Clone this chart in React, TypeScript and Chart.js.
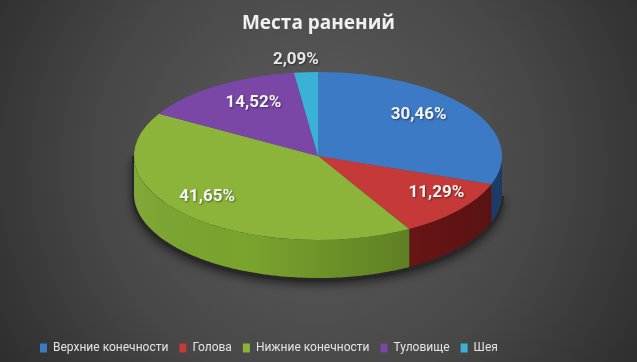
import React, { useEffect, useRef } from "react";
import { Chart, registerables } from "chart.js";
Chart.register(...registerables);

const categories = ["Верхние конечности", "Голова", "Нижние конечности", "Туловище", "Шея"];
const values = [30.46, 11.29, 41.65, 14.52, 2.09];
const topColors = ["#3c7ac6", "#c53a38", "#8cb43b", "#7a47a7", "#39b2d6"];
const sideColors = ["#2a5a9a", "#861b1b", "#7ba42e", "#55307a", "#24809c"];
const titleText = "Места ранений";

const FONT = "Roboto, 'Open Sans', sans-serif";
const TITLE_FONT = "'Open Sans', Roboto, sans-serif";
const GEOM = { cx: 318, cy: 156, rx: 184, ry: 84, depth: 38, labelCy: 147 };

const fmt = (v: number) => v.toFixed(2).replace(".", ",") + "%";

const pie3d = {
  id: "pie3d",
  beforeDraw(chart: any) {
    const { ctx, width, height } = chart;
    ctx.save();
    const g = ctx.createRadialGradient(318, 165, 10, 318, 165, 400);
    g.addColorStop(0, "#5d5d5d");
    g.addColorStop(0.55, "#474747");
    g.addColorStop(1, "#2a2a2a");
    ctx.fillStyle = g;
    ctx.fillRect(0, 0, width, height);
    ctx.restore();
  },
  beforeDatasetsDraw(chart: any) {
    const meta = chart.getDatasetMeta(0);
    const arcs = meta.data;
    if (!arcs.length) return;
    const ctx = chart.ctx;
    const { x, y, outerRadius: R } = arcs[0].getProps(["x", "y", "outerRadius"], true);
    const { cx, cy, rx, ry, depth } = GEOM;

    const drawSide = (a: number, b: number, i: number) => {
      const n = Math.max(4, Math.ceil((b - a) * 60));
      ctx.beginPath();
      for (let k = 0; k <= n; k++) {
        const t = a + ((b - a) * k) / n;
        const px = cx + rx * Math.cos(t);
        const py = cy + ry * Math.sin(t);
        if (k === 0) ctx.moveTo(px, py);
        else ctx.lineTo(px, py);
      }
      for (let k = n; k >= 0; k--) {
        const t = a + ((b - a) * k) / n;
        ctx.lineTo(cx + rx * Math.cos(t), cy + depth + ry * Math.sin(t));
      }
      ctx.closePath();
      ctx.fillStyle = sideColors[i];
      ctx.fill();
      const sh = ctx.createLinearGradient(cx - rx, 0, cx + rx, 0);
      sh.addColorStop(0, "rgba(255,255,255,0.05)");
      sh.addColorStop(0.3, "rgba(0,0,0,0.0)");
      sh.addColorStop(1, "rgba(0,0,0,0.35)");
      ctx.fillStyle = sh;
      ctx.fill();
    };

    ctx.save();
    ctx.beginPath();
    ctx.ellipse(cx, cy + depth + 2, rx + 2, ry + 2, 0, 0, Math.PI);
    ctx.lineTo(cx - rx - 2, cy);
    ctx.shadowColor = "rgba(0,0,0,0.55)";
    ctx.shadowBlur = 10;
    ctx.shadowOffsetY = 3;
    ctx.fillStyle = "rgba(40,40,40,1)";
    ctx.fill();
    ctx.restore();

    ctx.save();
    arcs.forEach((arc: any, i: number) => {
      const { startAngle, endAngle } = arc.getProps(["startAngle", "endAngle"], true);
      for (const off of [-2 * Math.PI, 0, 2 * Math.PI]) {
        const a = Math.max(startAngle + off, 0);
        const b = Math.min(endAngle + off, Math.PI);
        if (b > a) drawSide(a, b, i);
      }
    });
    ctx.restore();

    ctx.save();
    ctx.translate(cx, cy);
    ctx.scale(rx / R, ry / R);
    ctx.translate(-x, -y);
  },
  afterDatasetsDraw(chart: any) {
    const meta = chart.getDatasetMeta(0);
    const arcs = meta.data;
    if (!arcs.length) return;
    const ctx = chart.ctx;
    ctx.restore();
    const { cx, rx, ry, labelCy } = GEOM;
    ctx.save();
    ctx.font = `bold 17px ${FONT}`;
    ctx.textAlign = "center";
    ctx.textBaseline = "middle";
    ctx.shadowColor = "rgba(0,0,0,0.45)";
    ctx.shadowBlur = 2;
    ctx.shadowOffsetX = 1;
    ctx.shadowOffsetY = 1;
    arcs.forEach((arc: any, i: number) => {
      const { startAngle, endAngle } = arc.getProps(["startAngle", "endAngle"], true);
      const mid = (startAngle + endAngle) / 2;
      const small = values[i] < 5;
      const f = small ? 1.0 : 0.75 + 0.14 * Math.sin(mid);
      const px = cx + rx * f * Math.cos(mid) - (small ? 10 : 0);
      const py = labelCy + ry * f * Math.sin(mid) - (small ? 3 : 0);
      ctx.fillStyle = small ? "#e6e6e6" : "#f4f4f4";
      ctx.fillText(fmt(values[i]), px, py);
    });
    ctx.restore();
  },
};

export default function App() {
  const ref = useRef<HTMLCanvasElement | null>(null);
  useEffect(() => {
    document.body.style.margin = "0";
    const canvas = ref.current!;
    const chart = new Chart(canvas, {
      type: "pie",
      data: {
        labels: categories,
        datasets: [
          {
            data: values,
            backgroundColor: topColors,
            borderWidth: 0,
          },
        ],
      },
      options: {
        responsive: false,
        animation: false,
        events: [],
        layout: { padding: { top: 0, bottom: -2, left: 29, right: 29 } },
        plugins: {
          tooltip: { enabled: false },
          title: {
            display: true,
            text: titleText,
            color: "#f0f0f0",
            font: { family: TITLE_FONT, size: 19, weight: "bold" },
            padding: { top: 12, bottom: 10 },
          },
          legend: {
            position: "bottom",
            align: "start",
            labels: {
              color: "#e4e4e4",
              font: { family: FONT, size: 12 },
              boxWidth: 7,
              boxHeight: 9,
              padding: 11,
            },
          },
        },
      },
      plugins: [pie3d],
    });
    return () => chart.destroy();
  }, []);
  return (
    <div style={{ width: 637, height: 362 }}>
      <canvas ref={ref} width={637} height={362} />
    </div>
  );
}
